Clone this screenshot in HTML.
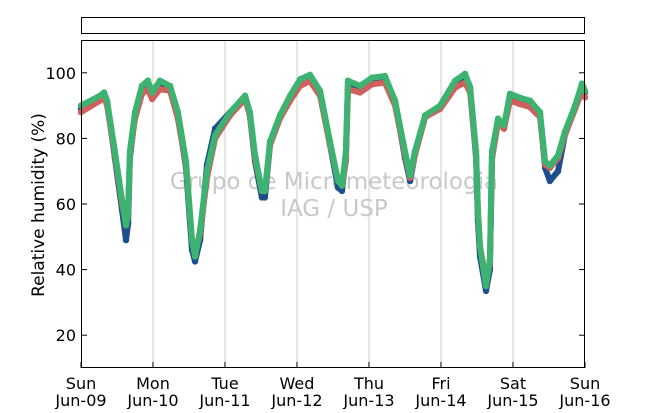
<!DOCTYPE html>
<html><head><meta charset="utf-8"><style>
body{margin:0;background:#fff;font-family:"DejaVu Sans","Liberation Sans",sans-serif}
svg text{font-family:"DejaVu Sans","Liberation Sans",sans-serif}
</style></head><body>
<svg id="chart" width="650" height="409" xmlns="http://www.w3.org/2000/svg">
<rect x="81.5" y="17.5" width="503" height="16" fill="#fff" stroke="#000"/>
<g id="grid"></g>
<text x="334" y="189" font-size="23" fill="#c8c8c8" text-anchor="middle">Grupo de Micrometeorologia</text>
<text x="334" y="216" font-size="23" fill="#c8c8c8" text-anchor="middle">IAG / USP</text>
<g id="series"></g>
<rect x="81.5" y="40.5" width="503" height="327" fill="none" stroke="#000"/>
<g id="axes"></g>
<text transform="translate(44,205) rotate(-90)" font-size="17" text-anchor="middle">Relative humidity (%)</text>
</svg>
<script>
const hours=[0,6.3,7.7,8.7,11.3,13.7,15,15.7,16.3,18,20.3,22.3,23.7,26.3,29.7,32.3,35,37,38,39.7,42,44.7,49.7,54.7,56.3,58,60.3,61.3,63,66.3,69.7,73,76.3,79.7,83,85.7,87,88.3,89,93,97,101.3,104.7,108,109.7,111.3,114.7,119.7,124.7,128,129.7,131.7,132.3,133,135,136.3,137,139,141,143,146.3,149.7,153,154.7,156.3,159,161.3,164.7,167,168];
const green=[90,93,94,91.5,76,61,53.5,56.5,76,88,96,97.6,94,97.6,96,88,73,49,44,52,70,81,88,93,88,75,64,64,79,87,93,98,99.4,94.5,79,67,65.6,76,97.6,96,98.5,99,91.5,76,68.7,76,87,90,97.6,99.7,95.7,76,58,47,35,43,76,86,84,93.6,92.4,91.5,88,73,71.7,74.8,82,90,96.7,94.5];
const red=[88,91.5,92.5,90,75,60,54,59,75,86,93.5,95,92,95,94.5,86,72,49,45,51,68,80,87,92,87,74,64,64,78,86,91.5,96,97.5,93,78,67,65.6,73,95,94,96.5,97,90,75,68,75,86.5,89,95.5,97,94,75,58,47,37,42,74,85,83,91.5,90.5,89.5,86.5,72,71,74,81,89,94.5,92.5];
const blue=[89,92.5,93.5,91,74,58,49,54,74,87,95,97,93.5,97,95.5,87,71,46,42.5,49,72,83,88,92.5,87,73,62,62,78,86.5,92.5,97.5,98.8,93.5,78,65,64,75,97,95.5,98,98.8,91,74,67,75,86.5,89.5,97,99.2,95,74,55,44,33.5,40,74,85,83,93,92,91,87.5,71,67,70,81,89.5,96,94];
const yTicks=[20,40,60,80,100];
const dayNames=["Sun","Mon","Tue","Wed","Thu","Fri","Sat","Sun"];
const dayDates=["Jun-09","Jun-10","Jun-11","Jun-12","Jun-13","Jun-14","Jun-15","Jun-16"];
const NS="http://www.w3.org/2000/svg";
const X0=81,X1=585,Y0=40,Y1=368;
function xs(h){return X0+(h/168)*(X1-X0);}
function ys(v){return Y1-(v-10)/100*(Y1-Y0);}
function mk(t,a,p){const e=document.createElementNS(NS,t);for(const k in a)e.setAttribute(k,a[k]);p.appendChild(e);return e;}
const grid=document.getElementById('grid'),axes=document.getElementById('axes'),ser=document.getElementById('series');
dayNames.forEach((d,i)=>{
  const x=xs(i*24);
  if(i>0&&i<7){const l=mk('line',{x1:x,x2:x,y1:Y0,y2:Y1,stroke:'#cccccc','stroke-width':1},grid);
  
  }
  const t1=mk('text',{x:x,y:389,'font-size':16,'text-anchor':'middle'},axes);t1.textContent=d;
  
  
  const t2=mk('text',{x:x,y:406,'font-size':16,'text-anchor':'middle'},axes);t2.textContent=dayDates[i];
  
  
  const tk=mk('line',{x1:x,x2:x,y1:Y1,y2:Y1-6,stroke:'#000'},axes);
  
  
});
yTicks.forEach(v=>{
  const y=ys(v);
  const t=mk('text',{x:76,y:y+6,'font-size':16,'text-anchor':'end'},axes);t.textContent=v;
  
  
  const a=mk('line',{x1:X0,x2:X0+6,y1:y,y2:y,stroke:'#000'},axes);
  
  
  const b=mk('line',{x1:X1,x2:X1-6,y1:y,y2:y,stroke:'#000'},axes);
  
  
});
[['blue',blue,'#1f4e8c'],['red',red,'#d0605e'],['green',green,'#3cb371']].forEach(([n,arr,c])=>{
  const pts=arr.map((v,i)=>xs(hours[i]).toFixed(1)+','+ys(v).toFixed(1)).join(' ');
  const pl=mk('polyline',{points:pts,fill:'none',stroke:c,'stroke-width':6,'stroke-linejoin':'round','stroke-linecap':'round'},ser);
  
  
  arr.forEach((v,i)=>{
    const ci=mk('circle',{cx:xs(hours[i]),cy:ys(v),r:3.2,fill:c},ser);
    
    
  });
});
</script>
</body></html>
